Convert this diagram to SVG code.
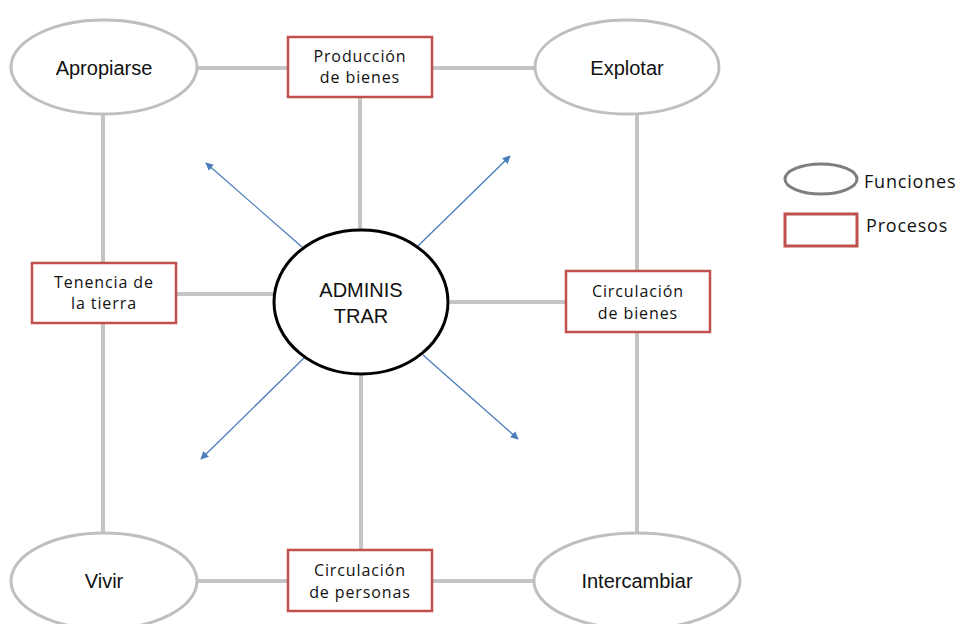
<svg xmlns="http://www.w3.org/2000/svg" width="967" height="624" viewBox="0 0 967 624">
  <style>
    .func { fill: #fff; stroke: #BFBFBF; stroke-width: 3; }
    .proc { fill: #fff; stroke: #C0504D; stroke-width: 2.5; }
    .link { stroke: #C4C4C4; stroke-width: 4; fill: none; }
    .ray { stroke: #4A7EBB; stroke-width: 1.3; fill: none; marker-end: url(#arrow); }
    .flabel { font-family: "Liberation Sans", Arial, sans-serif; font-size: 20px; fill: #111; text-anchor: middle; }
    .plabel { font-family: "Open Sans", "Noto Sans", sans-serif; font-size: 16px; letter-spacing: 0.9px; fill: #111; text-anchor: middle; }
    .legend { font-family: "Open Sans", "Noto Sans", sans-serif; font-size: 18px; letter-spacing: 0.8px; fill: #111; }
  </style>
  <defs>
    <marker id="arrow" viewBox="0 0 10 10" refX="9" refY="5" markerWidth="8" markerHeight="8" markerUnits="userSpaceOnUse" orient="auto">
      <path d="M0,0 L10,5 L0,10 z" fill="#4A7EBB"/>
    </marker>
  </defs>
  <rect width="967" height="624" fill="#fff"/>

  <g id="connectors">
    <line class="link" x1="197" y1="68" x2="288" y2="68"/>
    <line class="link" x1="432" y1="68" x2="535" y2="68"/>
    <line class="link" x1="103" y1="115" x2="103" y2="263"/>
    <line class="link" x1="360" y1="98" x2="360" y2="230"/>
    <line class="link" x1="637" y1="115" x2="637" y2="271"/>
    <line class="link" x1="176" y1="294" x2="276" y2="294"/>
    <line class="link" x1="450" y1="302" x2="566" y2="302"/>
    <line class="link" x1="103" y1="323" x2="103" y2="533"/>
    <line class="link" x1="637" y1="332" x2="637" y2="533"/>
    <line class="link" x1="361" y1="374" x2="361" y2="550"/>
    <line class="link" x1="197" y1="581" x2="288" y2="581"/>
    <line class="link" x1="432" y1="581" x2="534" y2="581"/>
    <line class="ray" x1="302" y1="247" x2="206" y2="163"/>
    <line class="ray" x1="418" y1="246" x2="510" y2="156"/>
    <line class="ray" x1="304" y1="358" x2="201" y2="459"/>
    <line class="ray" x1="423" y1="355" x2="518" y2="439"/>
  </g>

  <g id="apropiarse">
    <ellipse class="func" cx="104" cy="67" rx="93" ry="47"/>
    <text class="flabel" x="104" y="75">Apropiarse</text>
  </g>
  <g id="produccion">
    <rect class="proc" x="288" y="37" width="144" height="60"/>
    <text class="plabel" x="360" y="62">Producción</text>
    <text class="plabel" x="360" y="83">de bienes</text>
  </g>
  <g id="explotar">
    <ellipse class="func" cx="627" cy="67" rx="92" ry="47"/>
    <text class="flabel" x="627" y="75">Explotar</text>
  </g>
  <g id="tenencia">
    <rect class="proc" x="32" y="263" width="144" height="60"/>
    <text class="plabel" x="104" y="288">Tenencia de</text>
    <text class="plabel" x="104" y="309">la tierra</text>
  </g>
  <g id="administrar">
    <ellipse cx="361" cy="302" rx="87" ry="72" fill="#fff" stroke="#000" stroke-width="3"/>
    <text class="flabel" x="361" y="297">ADMINIS</text>
    <text class="flabel" x="361" y="323">TRAR</text>
  </g>
  <g id="circulacion-bienes">
    <rect class="proc" x="566" y="271" width="144" height="61"/>
    <text class="plabel" x="638" y="297">Circulación</text>
    <text class="plabel" x="638" y="319">de bienes</text>
  </g>
  <g id="vivir">
    <ellipse class="func" cx="104" cy="581" rx="93" ry="48"/>
    <text class="flabel" x="104" y="588">Vivir</text>
  </g>
  <g id="circulacion-personas">
    <rect class="proc" x="288" y="550" width="144" height="61"/>
    <text class="plabel" x="360" y="576">Circulación</text>
    <text class="plabel" x="360" y="598">de personas</text>
  </g>
  <g id="intercambiar">
    <ellipse class="func" cx="637" cy="581" rx="103" ry="48"/>
    <text class="flabel" x="637" y="588">Intercambiar</text>
  </g>

  <g id="legend">
    <ellipse cx="821" cy="179" rx="36" ry="15" fill="#fff" stroke="#7F7F7F" stroke-width="3"/>
    <text class="legend" x="864" y="188">Funciones</text>
    <rect x="785" y="214" width="72" height="32" fill="#fff" stroke="#C0504D" stroke-width="3"/>
    <text class="legend" x="866" y="232">Procesos</text>
  </g>
</svg>
